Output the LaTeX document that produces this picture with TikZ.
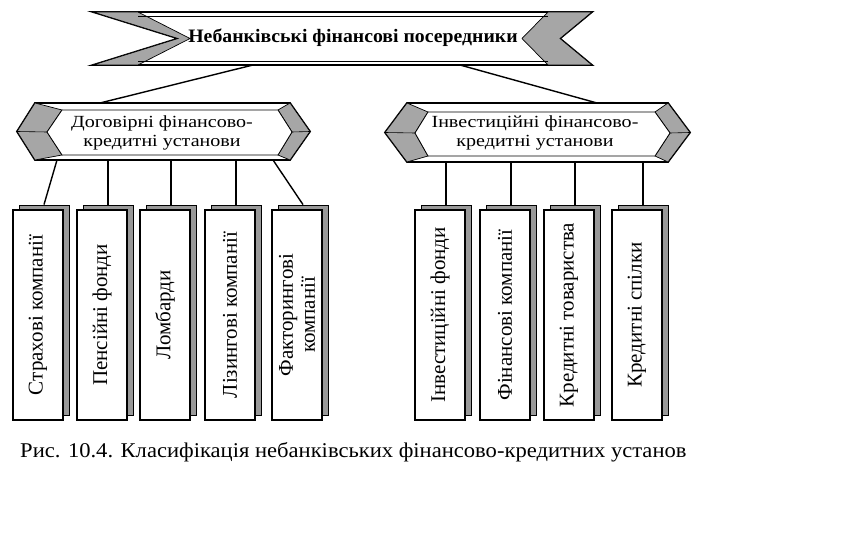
\documentclass[tikz,border=0pt]{standalone}
\usepackage{fontspec}
\setmainfont{Liberation Serif}
\usetikzlibrary{calc}
\begin{document}
\begin{tikzpicture}[x=1pt,y=-1pt,
  outl/.style={draw=black,line width=1.8pt,fill=white,line join=miter},
  hatch/.style={draw=black,line width=0.7pt,fill=black!35},
  innerbox/.style={draw=black,line width=0.8pt,fill=white},
  backbox/.style={draw=black,line width=0.8pt,fill=black!40,minimum width=50pt,minimum height=210pt,inner sep=0pt},
  frontbox/.style={draw=black,line width=2.2pt,fill=white,minimum width=50pt,minimum height=210pt,inner sep=0pt},
  ghost/.style={inner sep=0pt,outer sep=0pt},
  conn/.style={draw=black,line width=1.4pt},
  boxtxt/.style={rotate=90,font=\fontsize{21}{22}\selectfont,align=center,inner sep=0pt},
  hextxt/.style={font=\fontsize{17}{18.5}\selectfont,align=center,inner sep=0pt}]
\useasboundingbox (0,0) rectangle (849,553);
\fill[white] (0,0) rectangle (849,553);

% top banner
\node[ghost,minimum width=499pt,minimum height=53pt] (T) at (342.5,38.5) {};
\draw[outl] (93,12)--(592,12)--(560,38.5)--(592,65)--(93,65)--(178,38.5)--cycle;
\draw[hatch] (93,12)--(138,12)--(190,38.5)--(138,65)--(93,65)--(178,38.5)--cycle;
\draw[hatch] (592,12)--(548,12)--(522,38.5)--(548,65)--(592,65)--(560,38.5)--cycle;
\draw[line width=0.5pt] (138,16)--(548,16) (138,61)--(548,61);
\node[ghost] (Tt) at (353,38) {\bfseries\fontsize{19}{21}\selectfont\scalebox{1.04}[1]{Небанківські фінансові посередники}};

% left group
\node[ghost,minimum width=293pt,minimum height=57pt] (A) at (163.5,131.5) {};
\draw[outl] (17,131.5)--(35,103)--(290,103)--(310,131.5)--(290,160)--(35,160)--cycle;
\draw[hatch] (17,131.5)--(35,103)--(62,110)--(47,132)--(62,155)--(35,160)--cycle;
\draw[hatch] (310,131.5)--(290,103)--(278,110)--(292,132)--(278,155)--(290,160)--cycle;
\draw[innerbox] (47,132)--(62,110)--(278,110)--(292,132)--(278,155)--(62,155)--cycle;
\draw[line width=0.6pt] (17,131.5)--(47,132) (292,132)--(310,131.5);
\node[hextxt] (At) at (162,133) {\scalebox{1.18}[1]{Договірні фінансово-}\\\scalebox{1.18}[1]{кредитні установи}};

% right group
\node[ghost,minimum width=305pt,minimum height=59pt] (B) at (537.5,132.5) {};
\draw[outl] (385,132.5)--(407,103)--(668,103)--(690,132.5)--(668,162)--(407,162)--cycle;
\draw[hatch] (385,132.5)--(407,103)--(428,112)--(415,133)--(428,156)--(407,162)--cycle;
\draw[hatch] (690,132.5)--(668,103)--(655,112)--(670,133)--(655,156)--(668,162)--cycle;
\draw[innerbox] (415,133)--(428,112)--(655,112)--(670,133)--(655,156)--(428,156)--cycle;
\draw[line width=0.6pt] (385,132.5)--(415,133) (670,133)--(690,132.5);
\node[hextxt] (Bt) at (535,133) {\scalebox{1.18}[1]{Інвестиційні фінансово-}\\\scalebox{1.18}[1]{кредитні установи}};

% top connectors
\draw[conn] ([xshift=-89.5pt]T.south) -- ([xshift=-63.5pt]A.north);
\draw[conn] ([xshift=117.5pt]T.south) -- ([xshift=59.5pt]B.north);

% left boxes
\foreach \i/\x in {1/13,2/77,3/140,4/205,5/272}{
  \node[backbox] (s\i) at (\x+31,310) {};
  \node[frontbox] (a\i) at (\x+25,315) {};
}
\node[boxtxt] (ta1) at (a1) {Страхові компанії};
\node[boxtxt] (ta2) at (a2) {Пенсійні фонди};
\node[boxtxt] (ta3) at (a3) {Ломбарди};
\node[boxtxt] (ta4) at (a4) {Лізингові компанії};
\node[boxtxt] (ta5) at (a5) {Факторингові\\компанії};

\draw[conn] ([xshift=-106.5pt]A.south) -- (s1.north);
\draw[conn] (s2.north |- A.south) -- (s2.north);
\draw[conn] (s3.north |- A.south) -- (s3.north);
\draw[conn] (s4.north |- A.south) -- (s4.north);
\draw[conn] ([xshift=109.5pt]A.south) -- (s5.north);

% right boxes
\foreach \i/\x in {1/415,2/480,3/544,4/612}{
  \node[backbox] (r\i) at (\x+31,310) {};
  \node[frontbox] (b\i) at (\x+25,315) {};
  \draw[conn] (r\i.north |- B.south) -- (r\i.north);
}
\node[boxtxt] (tb1) at (b1) {Інвестиційні фонди};
\node[boxtxt] (tb2) at (b2) {Фінансові компанії};
\node[boxtxt] (tb3) at (b3) {Кредитні товариства};
\node[boxtxt] (tb4) at (b4) {Кредитні спілки};

% caption
\node[anchor=west,inner sep=0pt] (cap) at (20,452) {\fontsize{21}{23}\selectfont\scalebox{1.075}[1]{Рис. 10.4. Класифікація небанківських фінансово-кредитних установ}};
\end{tikzpicture}
\end{document}
